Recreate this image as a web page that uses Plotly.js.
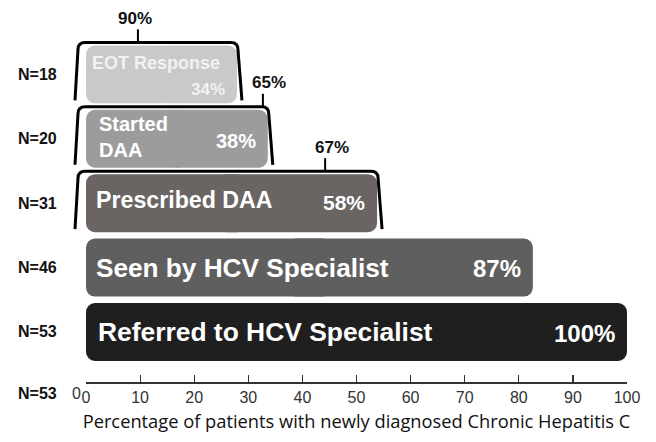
<!DOCTYPE html>
<html>
<head>
<meta charset="utf-8">
<script src="https://cdn.plot.ly/plotly-3.0.1.min.js"></script>
<style>html,body{margin:0;padding:0;background:#fff;}</style>
</head>
<body>
<div id="chart" style="width:656px;height:442px;"></div>
<script>
// ---- data ----
const stages = ['Referred to HCV Specialist', 'Seen by HCV Specialist', 'Prescribed DAA', 'Started<br>DAA', 'EOT Response'];
const nLabels = ['N=53', 'N=46', 'N=31', 'N=20', 'N=18'];
const barLengths = [100, 82.6, 53.8, 33.6, 27.9];
const pctLabels = ['100%', '87%', '58%', '38%', '34%'];
const convLabels = [null, null, '67%', '65%', '90%'];
const xTicks = [0, 10, 20, 30, 40, 50, 60, 70, 80, 90, 100];
const baseLabelN = 'N=53';
const originLabel = '0';
const xTitle = 'Percentage of patients with newly diagnosed Chronic Hepatitis C';

// ---- styling ----
const barColors = ['#1f1f1f', '#5f5f5f', '#6a6563', '#9c9c9c', '#c9c9c9'];
const textColors = ['#ffffff', '#ffffff', '#ffffff', '#ffffff', '#f2f2f2'];
const nameSizes = [26.4, 26.2, 23.2, 20, 18];
const pctSizes = [24, 24, 21, 20, 17];
const nameXShift = [10, 8, 8, 11, 4];
const nameShift = [0, 0, 3, 2, 11];
const pctShift = [-2, -1, 1, -2, -15];
const stemX = [null, null, 44.2, 32.7, 9.6];
const convShift = [0, 0, 7, 6, -3];

const Y0 = 0.223, Y1 = 6.0;
const M = {l: 86, r: 29, t: 10, b: 60};
const plotW = 656 - M.l - M.r, plotH = 442 - M.t - M.b;
const px = v => v / 100;
const py = v => (v - Y0) / (Y1 - Y0);
const dx = p => p / plotW;
const dy = p => p / plotH;

const pos = stages.map((s, i) => i + 1);
const BW = 0.9;

const fontBold = 'Liberation Sans, Arial, sans-serif';
const narrow = 'Liberation Sans Narrow, Arial Narrow, Liberation Sans, sans-serif';

const traces = [
  {
    type: 'bar', orientation: 'h', y: pos,
    base: barLengths.map(v => v * 0.55), x: barLengths.map(v => -v * 0.55),
    width: BW, marker: {color: barColors, cornerradius: 9, line: {width: 0}},
    hoverinfo: 'skip', showlegend: false
  },
  {
    type: 'bar', orientation: 'h', y: pos,
    base: barLengths.map(v => v * 0.45), x: barLengths.map(v => v * 0.55),
    width: BW, marker: {color: barColors, cornerradius: 9, line: {width: 0}},
    hoverinfo: 'skip', showlegend: false
  }
];

const annotations = [];
const shapes = [];

stages.forEach((s, i) => {
  annotations.push({
    xref: 'x', yref: 'y', x: 0, y: pos[i], xanchor: 'left', yanchor: 'middle',
    xshift: nameXShift[i], yshift: nameShift[i], showarrow: false, align: 'left',
    text: '<b>' + s + '</b>',
    font: {family: fontBold, size: nameSizes[i], color: textColors[i]}
  });
  annotations.push({
    xref: 'x', yref: 'y', x: barLengths[i], y: pos[i], xanchor: 'right', yanchor: 'middle',
    xshift: -10, yshift: pctShift[i], showarrow: false,
    text: '<b>' + pctLabels[i] + '</b>',
    font: {family: fontBold, size: pctSizes[i], color: textColors[i]}
  });
  annotations.push({
    xref: 'paper', yref: 'paper', x: dx(-49), y: py(pos[i]), xanchor: 'center', yanchor: 'middle',
    showarrow: false, text: '<b>' + nLabels[i] + '</b>',
    font: {family: fontBold, size: 16, color: '#111'}
  });
  if (convLabels[i]) {
    const topY = py(pos[i] + BW / 2) + dy(3);
    const botY = py(pos[i] - BW / 2) + dy(3);
    const Lt = dx(-8), Lb = dx(-11);
    const Rt = px(barLengths[i]) + dx(1), Rb = px(barLengths[i]) + dx(5);
    const r = 7;
    const path = 'M ' + Lb + ',' + botY +
      ' L ' + Lt + ',' + (topY - dy(r)) +
      ' Q ' + Lt + ',' + topY + ' ' + (Lt + dx(r)) + ',' + topY +
      ' L ' + (Rt - dx(r)) + ',' + topY +
      ' Q ' + Rt + ',' + topY + ' ' + Rt + ',' + (topY - dy(r)) +
      ' L ' + Rb + ',' + botY;
    shapes.push({type: 'path', xref: 'paper', yref: 'paper', path: path,
      line: {color: '#000', width: 3}, fillcolor: 'rgba(0,0,0,0)', layer: 'above'});
    const sx = px(stemX[i]);
    shapes.push({type: 'line', xref: 'paper', yref: 'paper', x0: sx, x1: sx, y0: topY, y1: topY + dy(13),
      line: {color: '#000', width: 2}});
    annotations.push({
      xref: 'paper', yref: 'paper', x: sx, y: topY + dy(13), xanchor: 'center', yanchor: 'middle',
      xshift: convShift[i], yshift: 11, showarrow: false,
      text: '<b>' + convLabels[i] + '</b>',
      font: {family: fontBold, size: 17, color: '#111'}
    });
  }
});

annotations.push({
  xref: 'paper', yref: 'paper', x: dx(-49), y: py(Y0) - dy(11), xanchor: 'center', yanchor: 'middle',
  showarrow: false, text: '<b>' + baseLabelN + '</b>', font: {family: fontBold, size: 16, color: '#111'}
});
annotations.push({
  xref: 'paper', yref: 'paper', x: dx(-10), y: py(Y0) - dy(11), xanchor: 'center', yanchor: 'middle',
  showarrow: false, text: originLabel,
  font: {family: narrow, size: 16, color: '#333'}
});

const layout = {
  width: 656, height: 442,
  margin: M,
  paper_bgcolor: '#fff', plot_bgcolor: '#fff',
  barmode: 'overlay',
  showlegend: false,
  xaxis: {
    range: [0, 100], tickvals: xTicks, ticktext: xTicks.map(String),
    showgrid: false, zeroline: false, showline: true, linecolor: '#333', linewidth: 1.5,
    ticks: 'inside', ticklen: 7, tickwidth: 1.2, tickcolor: '#333',
    tickfont: {family: narrow, size: 16, color: '#333'},
    title: {text: xTitle, standoff: 10, font: {family: 'Open Sans, sans-serif', size: 18.3, color: '#111'}},
    automargin: false, fixedrange: true
  },
  yaxis: {
    range: [Y0, Y1], showgrid: false, zeroline: false, showline: false,
    showticklabels: false, ticks: '', automargin: false, fixedrange: true
  },
  annotations: annotations,
  shapes: shapes
};

Plotly.newPlot('chart', traces, layout, {displayModeBar: false, staticPlot: true});
</script>
</body>
</html>
